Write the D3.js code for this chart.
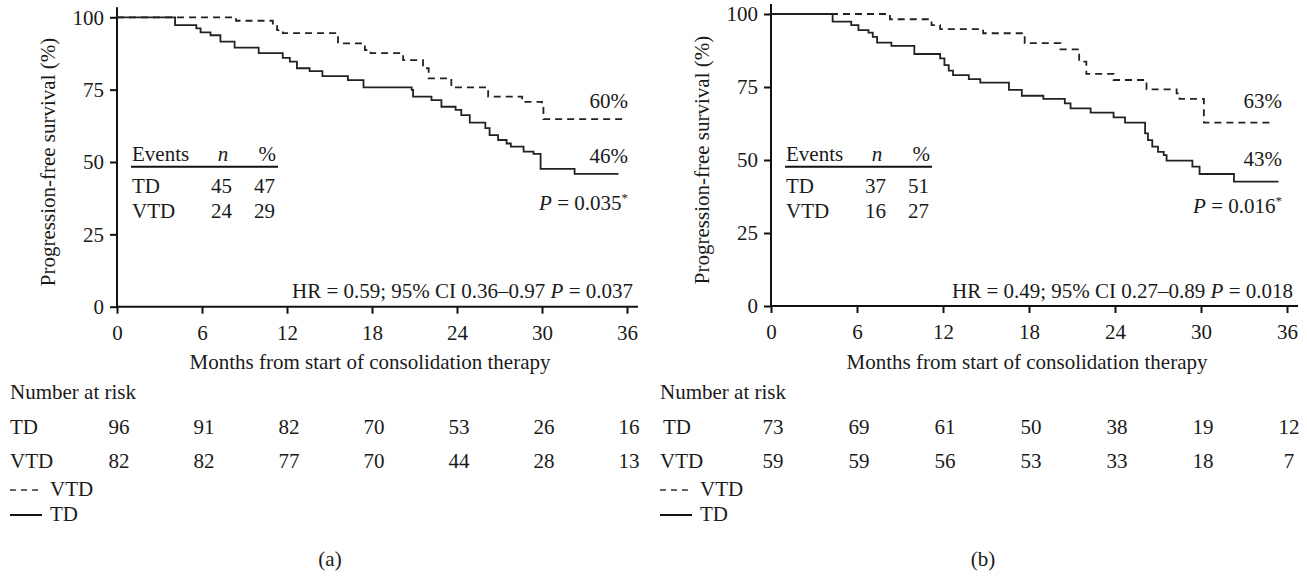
<!DOCTYPE html>
<html>
<head>
<meta charset="utf-8">
<script src="https://cdn.jsdelivr.net/npm/d3@7"></script>
<style>
  body { margin: 0; background: #fff; }
  svg text { font-family: "Liberation Serif", "DejaVu Serif", serif; fill: #1a1a1a; }
</style>
</head>
<body>
<svg id="chart" width="1307" height="579"></svg>
<script>
// x ticks (months) and y ticks (%)
const monthTicks = [0, 6, 12, 18, 24, 30, 36];
const survTicks = [0, 25, 50, 75, 100];
const groups = ["TD", "VTD"];

// panel (a) – step curves: [month of drop, survival after drop]
const tdStepsA = [[0,100],[4.1,97.3],[5.6,96.2],[5.9,94.8],[6.6,93.8],[7.3,91.6],[8.3,89.5],[10.0,87.6],[11.7,86.0],[12.2,84.7],[12.7,82.4],[13.6,81.4],[14.5,79.7],[16.3,78.3],[17.4,75.8],[20.8,74.9],[20.9,72.6],[22.2,71.4],[22.9,69.1],[23.9,68.0],[24.3,66.2],[24.9,63.6],[26.0,61.7],[26.3,59.3],[26.9,57.6],[27.5,56.4],[27.8,55.3],[28.7,53.6],[29.4,52.8],[29.9,47.6],[32.3,45.9],[35.4,45.9]];
const vtdStepsA = [[0,100],[8.4,98.8],[11.0,97.3],[11.3,95.6],[11.7,94.5],[15.6,91.0],[17.5,88.7],[17.9,87.6],[20.2,85.2],[21.6,82.4],[22.0,78.9],[23.6,75.8],[26.2,72.6],[28.6,70.8],[30.0,69.7],[30.1,64.8],[35.7,64.8]];
const riskTdA = [96, 91, 82, 70, 53, 26, 16];
const riskVtdA = [82, 82, 77, 70, 44, 28, 13];
const eventsNA = [45, 24];
const eventsPctA = [47, 29];

// panel (b)
const tdStepsB = [[0,100],[4.3,97.4],[5.6,96.2],[6.1,94.5],[6.8,93.6],[7.1,92.2],[7.4,90.2],[8.4,89.1],[10.0,86.3],[11.8,84.8],[12.1,82.5],[12.4,80.6],[12.7,79.1],[13.8,77.7],[14.6,76.5],[16.6,74.0],[17.5,72.0],[19.0,70.9],[20.5,69.4],[20.9,67.7],[22.3,66.2],[23.9,64.6],[24.7,62.8],[26.1,59.1],[26.3,56.8],[26.6,54.6],[27.0,52.8],[27.4,51.7],[27.6,49.8],[29.4,47.7],[29.9,45.2],[32.3,42.6],[35.4,42.6]];
const vtdStepsB = [[0,100],[8.3,98.2],[11.2,96.2],[11.8,94.8],[14.8,93.4],[17.7,90.0],[20.2,87.9],[21.5,83.7],[22.0,79.5],[23.9,77.4],[26.2,74.2],[28.3,72.8],[28.5,70.9],[30.2,62.8],[35.1,62.8]];
const riskTdB = [73, 69, 61, 50, 38, 19, 12];
const riskVtdB = [59, 59, 56, 53, 33, 18, 7];
const eventsNB = [37, 16];
const eventsPctB = [51, 27];

const panels = [
  { x0: 117, x1: 627, yTop: 17.3, yBot: 306.7, left: 10, label: "(a)",
    td: tdStepsA, vtd: vtdStepsA, riskTd: riskTdA, riskVtd: riskVtdA,
    evN: eventsNA, evPct: eventsPctA, vtdPct: "60%", tdPct: "46%", p: "0.035",
    hr: ["HR = 0.59; 95% CI 0.36\u20130.97 ", "0.037"] },
  { x0: 771, x1: 1287, yTop: 14, yBot: 306, left: 660, label: "(b)",
    td: tdStepsB, vtd: vtdStepsB, riskTd: riskTdB, riskVtd: riskVtdB,
    evN: eventsNB, evPct: eventsPctB, vtdPct: "63%", tdPct: "43%", p: "0.016",
    hr: ["HR = 0.49; 95% CI 0.27\u20130.89 ", "0.018"] }
];

const svg = d3.select("#chart");
const fs = 21;

panels.forEach(function(c, i) {
  const g = svg.append("g");
  const x = d3.scaleLinear().domain([0, 36]).range([c.x0, c.x1]);
  const y = d3.scaleLinear().domain([0, 100]).range([c.yBot, c.yTop]);

  // axes
  const xAxis = g.append("g")
      .attr("transform", "translate(0," + y(0) + ")")
      .call(d3.axisBottom(x).tickValues(monthTicks).tickSize(7).tickSizeOuter(0).tickPadding(11));
  const yAxis = g.append("g")
      .attr("transform", "translate(" + x(0) + ",0)")
      .call(d3.axisLeft(y).tickValues(survTicks).tickSize(7).tickSizeOuter(0).tickPadding(6));
  [xAxis, yAxis].forEach(function(a) {
    a.attr("font-family", null);
    a.select(".domain").remove();
    a.selectAll("line").attr("stroke", "#111").attr("stroke-width", 2);
    a.selectAll("text").attr("font-size", fs).attr("fill", "#1a1a1a");
  });
  g.append("line").attr("x1", x(0)).attr("x2", x(36) + 11).attr("y1", y(0)).attr("y2", y(0))
      .attr("stroke", "#111").attr("stroke-width", 2);
  g.append("line").attr("x1", x(0)).attr("x2", x(0)).attr("y1", y(0) + 1).attr("y2", y(100) - 10)
      .attr("stroke", "#111").attr("stroke-width", 2);

  // curves
  const line = d3.line().x(d => x(d[0])).y(d => y(d[1])).curve(d3.curveStepAfter);
  g.append("path").datum(c.vtd).attr("d", line).attr("fill", "none")
      .attr("stroke", "#222").attr("stroke-width", 1.8).attr("stroke-dasharray", "7,5");
  g.append("path").datum(c.td).attr("d", line).attr("fill", "none")
      .attr("stroke", "#222").attr("stroke-width", 1.8);

  // axis titles
  g.append("text").attr("transform", "translate(" + (c.x0 - 69) + "," + ((c.yTop + c.yBot) / 2) + ") rotate(-90)")
      .attr("text-anchor", "middle").attr("dy", "0.35em").attr("font-size", fs)
      .text("Progression-free survival (%)");
  g.append("text").attr("x", (c.x0 + c.x1) / 2 - 2).attr("y", 369).attr("text-anchor", "middle")
      .attr("font-size", fs).text("Months from start of consolidation therapy");

  // annotations on the right
  const rx = c.x1 + (i === 0 ? 1 : -5);
  g.append("text").attr("x", rx).attr("y", 108).attr("text-anchor", "end").attr("font-size", fs).text(c.vtdPct);
  g.append("text").attr("x", rx).attr("y", i === 0 ? 163 : 166).attr("text-anchor", "end").attr("font-size", fs).text(c.tdPct);
  const pt = g.append("text").attr("x", rx).attr("y", i === 0 ? 210 : 213).attr("text-anchor", "end").attr("font-size", fs);
  pt.append("tspan").attr("font-style", "italic").text("P");
  pt.append("tspan").text(" = " + c.p);
  pt.append("tspan").attr("font-size", 13).attr("dy", -8).text("*");
  const hr = g.append("text").attr("x", x(36) + 6).attr("y", 298).attr("text-anchor", "end").attr("font-size", fs);
  hr.append("tspan").text(c.hr[0]);
  hr.append("tspan").attr("font-style", "italic").text("P");
  hr.append("tspan").text(" = " + c.hr[1]);

  // events table
  const ex = c.x0 + 15;
  g.append("text").attr("x", ex).attr("y", 161).attr("font-size", fs).text("Events");
  g.append("text").attr("x", ex + 91).attr("y", 161).attr("text-anchor", "middle")
      .attr("font-size", fs).attr("font-style", "italic").text("n");
  g.append("text").attr("x", ex + 144).attr("y", 161).attr("text-anchor", "end").attr("font-size", fs).text("%");
  g.append("line").attr("x1", ex - 1).attr("x2", ex + 146).attr("y1", 166.7).attr("y2", 166.7)
      .attr("stroke", "#111").attr("stroke-width", 2);
  groups.forEach(function(gr, k) {
    const yy = 192.5 + k * 25.8;
    g.append("text").attr("x", ex).attr("y", yy).attr("font-size", fs).text(gr);
    g.append("text").attr("x", ex + 100).attr("y", yy).attr("text-anchor", "end").attr("font-size", fs).text(c.evN[k]);
    g.append("text").attr("x", ex + 143).attr("y", yy).attr("text-anchor", "end").attr("font-size", fs).text(c.evPct[k]);
  });

  // number at risk
  g.append("text").attr("x", c.left).attr("y", 399).attr("font-size", fs).text("Number at risk");
  [c.riskTd, c.riskVtd].forEach(function(row, k) {
    const yy = 434 + k * 34;
    g.append("text").attr("x", c.left + (k === 0 && i === 1 ? 3 : 0)).attr("y", yy).attr("font-size", fs).text(groups[k]);
    g.selectAll(null).data(row).enter().append("text")
        .attr("x", (d, j) => x(monthTicks[j]) + 2).attr("y", yy)
        .attr("text-anchor", "middle").attr("font-size", fs).text(d => d);
  });

  // legend
  g.append("line").attr("x1", c.left).attr("x2", c.left + 32).attr("y1", 490).attr("y2", 490)
      .attr("stroke", "#333").attr("stroke-width", 1.3).attr("stroke-dasharray", "6,5");
  g.append("text").attr("x", c.left + 40).attr("y", 496).attr("font-size", fs).text("VTD");
  g.append("line").attr("x1", c.left).attr("x2", c.left + 32).attr("y1", 515).attr("y2", 515)
      .attr("stroke", "#111").attr("stroke-width", 2);
  g.append("text").attr("x", c.left + 40).attr("y", 521).attr("font-size", fs).text("TD");

  g.append("text").attr("x", i === 0 ? 330 : 983).attr("y", 566).attr("text-anchor", "middle")
      .attr("font-size", fs).text(c.label);
});
</script>
</body>
</html>
